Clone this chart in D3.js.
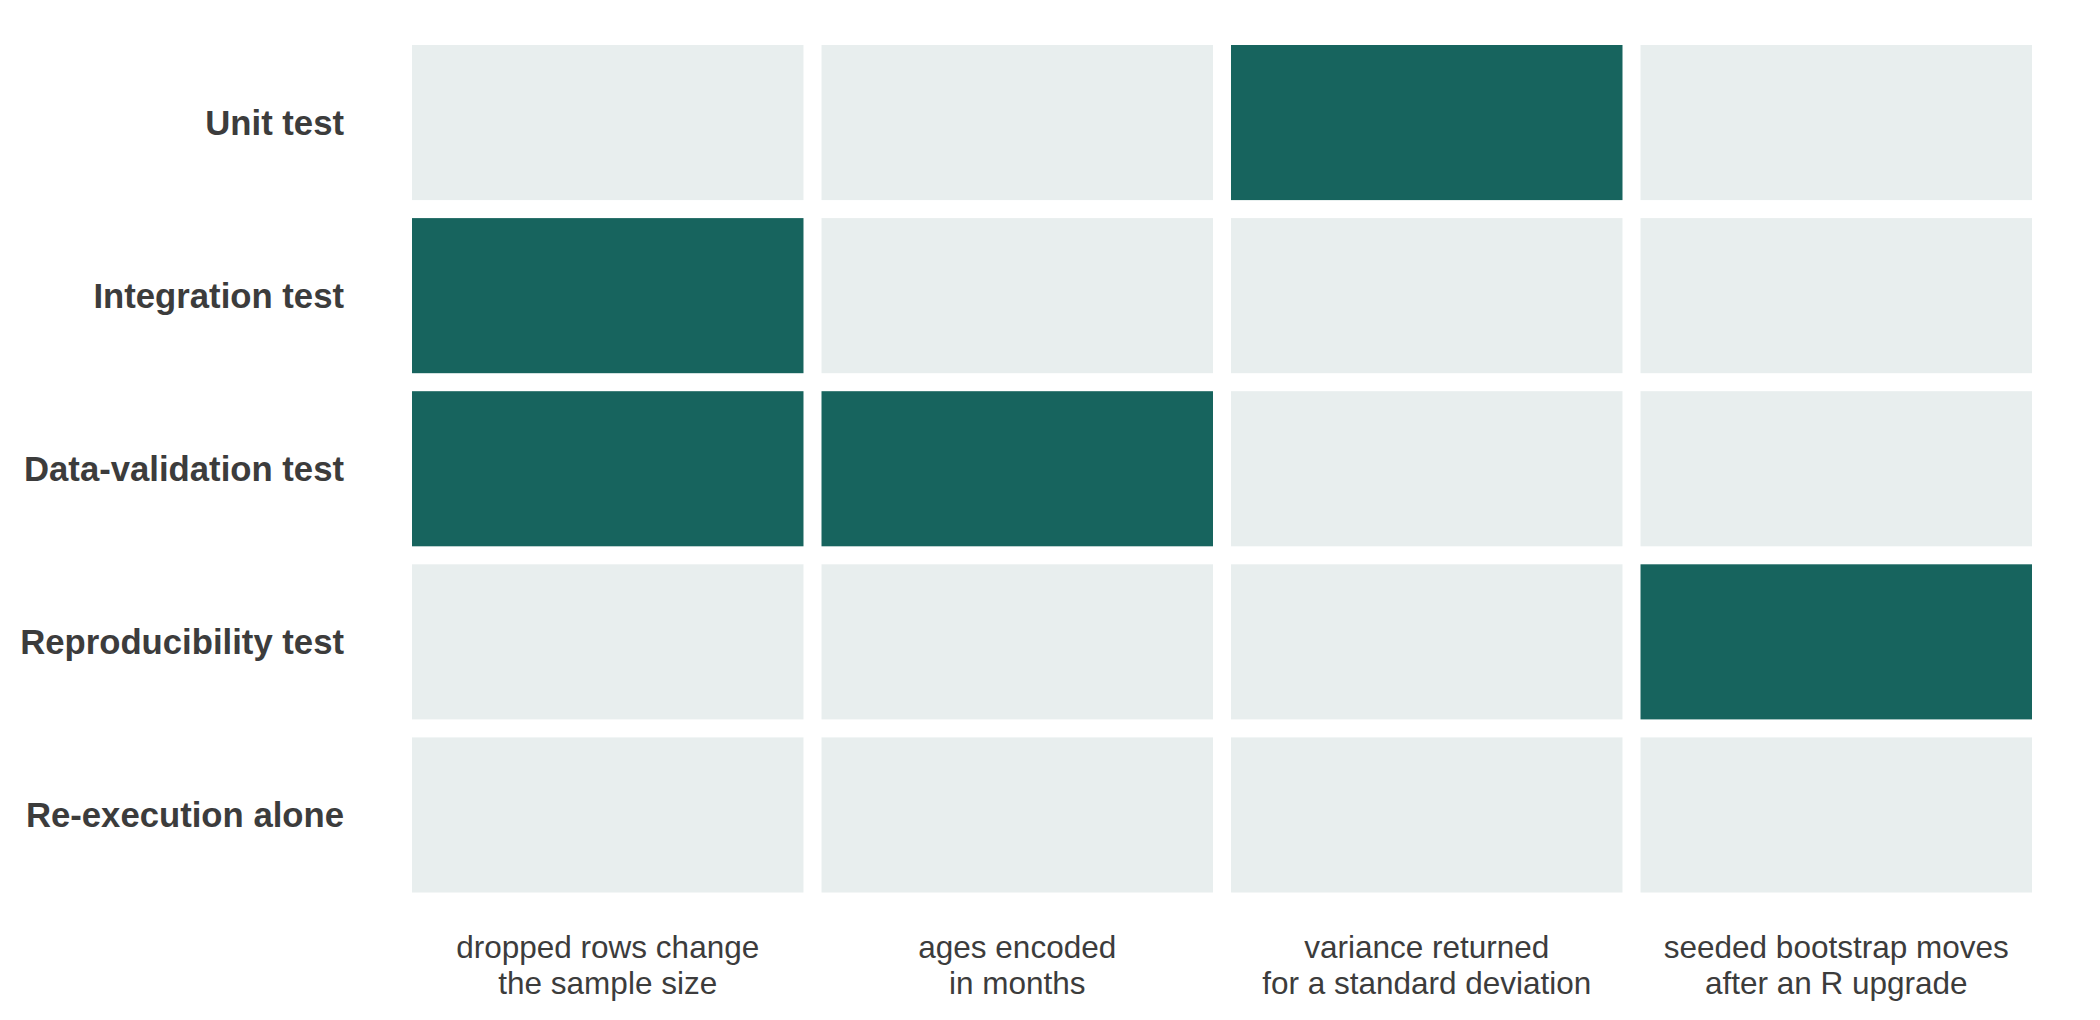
<!DOCTYPE html>
<html><head><meta charset="utf-8">
<script src="https://cdn.jsdelivr.net/npm/d3@7"></script>
<style>html,body{margin:0;padding:0;background:#fff;}svg{display:block;}</style>
</head><body>
<script>
const rows = ["Unit test", "Integration test", "Data-validation test", "Reproducibility test", "Re-execution alone"];
const cols = [
  ["dropped rows change", "the sample size"],
  ["ages encoded", "in months"],
  ["variance returned", "for a standard deviation"],
  ["seeded bootstrap moves", "after an R upgrade"]
];
const caught = [
  [0, 0, 1, 0],
  [1, 0, 0, 0],
  [1, 1, 0, 0],
  [0, 0, 0, 1],
  [0, 0, 0, 0]
];

const W = 2100, H = 1020;
const svg = d3.select("body").append("svg").attr("width", W).attr("height", H);
const x = d3.scaleBand().domain(d3.range(cols.length)).range([412, 2032]).paddingInner(0.044).paddingOuter(0);
const y = d3.scaleBand().domain(rows).range([45, 892.5]).paddingInner(0.104).paddingOuter(0);
const color = d3.scaleOrdinal().domain([0, 1]).range(["#e8eeee", "#17645e"]);

const cells = [];
rows.forEach((r, i) => cols.forEach((c, j) => cells.push({r, j, v: caught[i][j]})));

svg.append("g").selectAll("rect").data(cells).join("rect")
  .attr("x", d => x(d.j)).attr("y", d => y(d.r))
  .attr("width", x.bandwidth()).attr("height", y.bandwidth())
  .attr("fill", d => color(d.v));

const textColor = "#3c3c3c";
svg.append("g").selectAll("text").data(rows).join("text")
  .attr("x", 344).attr("y", d => y(d) + y.bandwidth() / 2)
  .attr("dy", "0.36em")
  .attr("text-anchor", "end")
  .attr("font-family", "'Liberation Sans', Arial, sans-serif")
  .attr("font-weight", "bold").attr("font-size", 34.7)
  .attr("fill", textColor)
  .text(d => d);

const cl = svg.append("g").selectAll("text").data(cols).join("text")
  .attr("text-anchor", "middle")
  .attr("font-family", "'Liberation Sans', Arial, sans-serif")
  .attr("font-size", 31.5)
  .attr("fill", textColor);
cl.each(function(d, j) {
  d3.select(this).selectAll("tspan").data(d).join("tspan")
    .attr("x", x(j) + x.bandwidth() / 2)
    .attr("y", (t, k) => 958 + k * 36)
    .text(t => t);
});
</script>
</body></html>
